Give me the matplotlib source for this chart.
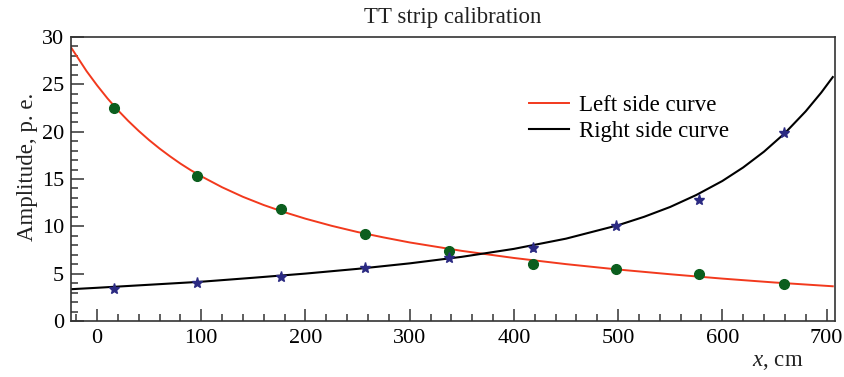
import matplotlib.pyplot as plt
from matplotlib.ticker import MultipleLocator

plt.rcParams['font.family'] = ['Liberation Serif', 'DejaVu Serif']
plt.rcParams['mathtext.fontset'] = 'custom'
plt.rcParams['mathtext.it'] = 'Liberation Serif:italic'
plt.rcParams['mathtext.rm'] = 'Liberation Serif'

# measured points
pos = [16, 96, 177, 257, 338, 418, 498, 578, 659]
left_amp = [22.5, 15.3, 11.8, 9.15, 7.35, 6.0, 5.5, 4.95, 3.95]
right_amp = [3.4, 4.0, 4.7, 5.65, 6.7, 7.7, 10.05, 12.8, 19.85]
right_err = [0.35, 0.35, 0.35, 0.3, 0.4, 0.4, 0.3, 0.35, 0.3]

# fitted curves
left_x = [-25, -10, 0, 10, 20, 30, 40, 50, 60, 70, 80, 90, 100, 120, 140, 160,
          180, 200, 225, 250, 275, 300, 350, 400, 450, 500, 550, 600, 650, 706]
left_y = [28.91, 26.39, 24.90, 23.52, 22.27, 21.13, 20.08, 19.11, 18.22, 17.40,
          16.63, 15.93, 15.29, 14.13, 13.12, 12.25, 11.49, 10.81, 10.06, 9.40,
          8.83, 8.30, 7.41, 6.66, 6.01, 5.44, 4.94, 4.48, 4.07, 3.67]
right_x = [-25, 0, 50, 100, 150, 200, 250, 300, 350, 400, 450, 500, 525, 550,
           575, 600, 620, 640, 660, 680, 695, 706]
right_y = [3.36, 3.51, 3.83, 4.15, 4.57, 5.01, 5.51, 6.09, 6.78, 7.62, 8.70,
           10.12, 11.01, 12.05, 13.31, 14.79, 16.22, 17.89, 19.84, 22.15, 24.14,
           25.77]

fig = plt.figure(figsize=(8.45, 3.77), dpi=100)
ax = fig.add_axes([0.084, 0.1485, 0.904, 0.7533])

ax.plot(left_x, left_y, color='#f2391d', lw=1.4, label='Left side curve')
ax.plot(right_x, right_y, color='black', lw=1.5, label='Right side curve')
ax.plot(pos, left_amp, 'o', color='#0b5e1e', ms=7, zorder=3)
ax.errorbar(pos, right_amp, yerr=right_err, fmt='*', color='#2b2a82', ms=8,
            elinewidth=1.2, capsize=0, zorder=3)

ax.set_xlim(-25, 708)
ax.set_ylim(0, 30)
ax.xaxis.set_major_locator(MultipleLocator(100))
ax.xaxis.set_minor_locator(MultipleLocator(20))
ax.yaxis.set_major_locator(MultipleLocator(5))
ax.yaxis.set_minor_locator(MultipleLocator(1))
ax.tick_params(which='both', direction='in', top=False, right=False,
               labelsize=16, color='#333333', width=1.1)
ax.tick_params(which='major', length=9, pad=6)
ax.tick_params(which='minor', length=5)
ax.tick_params(axis='y', pad=5)
for s in ax.spines.values():
    s.set_color('#333333')
    s.set_linewidth(1.2)

ax.set_title('TT strip calibration', fontsize=16.5, color='#222222', pad=10)
fig.text(0.032, 1 - 167 / 377, 'Amplitude, p. e.', rotation=90, ha='center',
         va='center', fontsize=16.5, color='#222222')
fig.text(803 / 845, 1 - 362 / 377, r'$x$, cm', ha='right', va='center',
         fontsize=16.5, color='#222222')

ax.legend(loc='upper left', bbox_to_anchor=(529 / 845, 1 - 95 / 377),
          bbox_transform=fig.transFigure, frameon=False, fontsize=16.5,
          handlelength=1.75, handletextpad=0.45, labelspacing=0.22,
          borderpad=0, borderaxespad=0)

fig.savefig('out.png', dpi=100)
